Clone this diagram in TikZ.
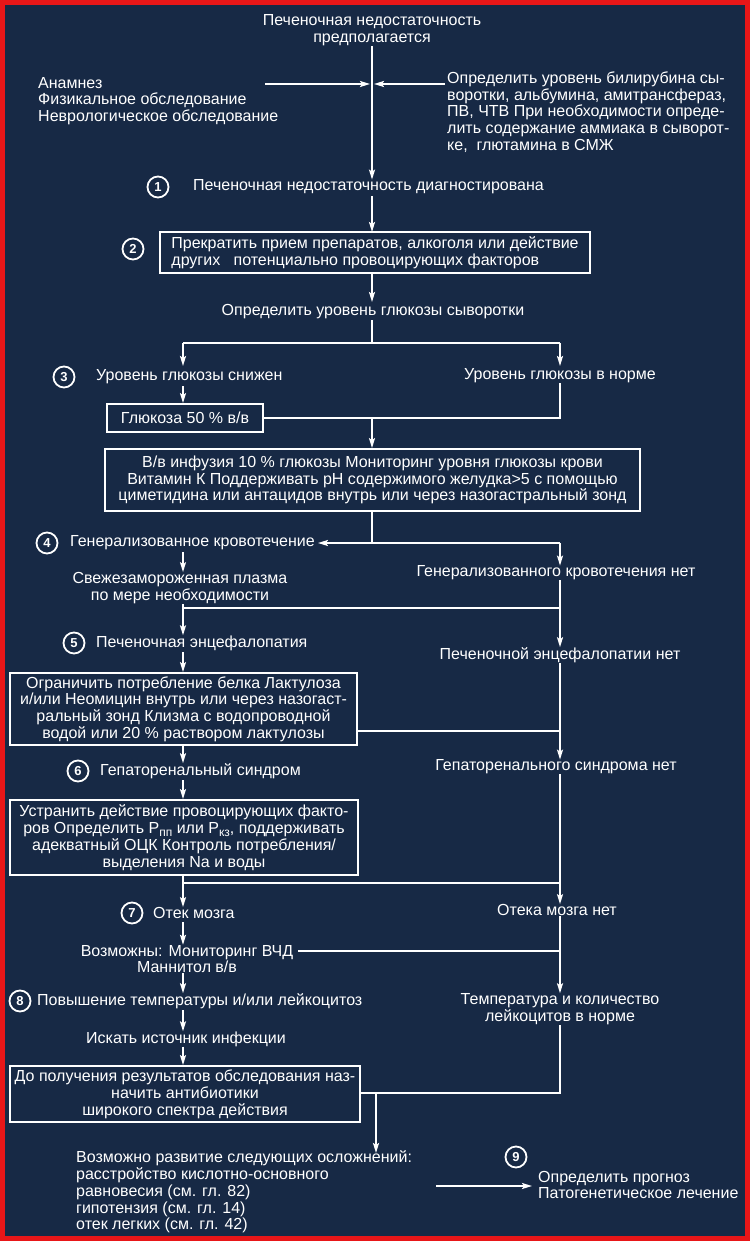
\documentclass[tikz,border=0pt]{standalone}
\usepackage{fontspec}
\setmainfont{Liberation Sans}
\usetikzlibrary{arrows.meta,calc}
\definecolor{navy}{RGB}{23,41,69}
\definecolor{frame}{RGB}{232,22,24}
\newcommand{\mf}{\fontsize{16pt}{16.8pt}\selectfont}
\newcommand{\subs}[1]{\raisebox{-0.35ex}{\fontsize{12pt}{12pt}\selectfont #1}}
\begin{document}
\begin{tikzpicture}[x=1pt,y=-1pt,
  txt/.style={inner sep=0pt,text=white,font=\mf},
  boxed/.style={draw=white,line width=1.8pt,inner sep=0pt,text=white,font=\mf},
  num/.style={circle,draw=white,line width=1.8pt,minimum size=21pt,inner sep=0pt,text=white,font=\fontsize{13pt}{13pt}\selectfont\bfseries},
  ln/.style={draw=white,line width=1.8pt},
  arr/.style={ln,-{Stealth[length=10pt,width=6pt,inset=2pt]}}]
\fill[frame] (0,0) rectangle (750,1241);
\fill[navy] (5,5) rectangle (745,1236);
\useasboundingbox (0,0) rectangle (750,1241);

% top
\node[txt,align=center] (t0) at (372,30) {Печеночная недостаточность\\предполагается};
\node[txt,align=left,anchor=west] (anam) at (38,101) {Анамнез\\Физикальное обследование\\Неврологическое обследование};
\node[txt,align=left,anchor=west] (rt) at (447,112) {Определить уровень билирубина сы-\\воротки, альбумина, амитрансфераз,\\ПВ, ЧТВ При необходимости опреде-\\лить содержание аммиака в сыворот-\\ке,\ \ глютамина в СМЖ};
\coordinate (hl) at (265,84);
\coordinate (hr) at (445,84);
\coordinate (j0) at (372,84);

\node[num] (c1) at (158,187) {1};
\node[txt,anchor=west] (d1) at (193,187) {Печеночная недостаточность диагностирована};

\node[num] (c2) at (133,249) {2};
\node[boxed,minimum width=430pt,minimum height=41pt,align=left] (b2) at (375,252.5) {Прекратить прием препаратов, алкоголя или действие\\других\ \ \ потенциально провоцирующих факторов};

\node[txt] (g0) at (373,312) {Определить уровень глюкозы сыворотки};
\coordinate (j1) at (372,343);
\coordinate (j1l) at (183,343);
\coordinate (j1r) at (560,343);

\node[num] (c3) at (64,377) {3};
\node[txt,anchor=west] (g1) at (96,377) {Уровень глюкозы снижен};
\node[txt] (g2) at (560,376) {Уровень глюкозы в норме};
\node[boxed,minimum width=156pt,minimum height=28pt] (gb) at (185,418) {Глюкоза 50 \% в/в};
\coordinate (j2) at (372,418);
\coordinate (j2r) at (560,418);

\node[boxed,minimum width=535pt,minimum height=62pt,align=center] (bb) at (372.5,480) {В/в инфузия 10 \% глюкозы Мониторинг уровня глюкозы крови\\Витамин К Поддерживать pH содержимого желудка>5 с помощью\\циметидина или антацидов внутрь или через назогастральный зонд};

\coordinate (j3) at (372,543);
\coordinate (j3r) at (560,543);
\node[num] (c4) at (47,543) {4};
\node[txt,anchor=west] (d4) at (70,543) {Генерализованное кровотечение};
\node[txt] (n4) at (556,573) {Генерализованного кровотечения нет};
\node[txt,align=center] (pl) at (180,588) {Свежезамороженная плазма\\по мере необходимости};
\coordinate (j4r) at (560,608);
\coordinate (j4l) at (183,608);

\node[num] (c5) at (74,643) {5};
\node[txt,anchor=west] (d5) at (96,643) {Печеночная энцефалопатия};
\node[txt] (n5) at (560,655) {Печеночной энцефалопатии нет};
\node[boxed,minimum width=347pt,minimum height=72pt,align=center] (b5) at (183.5,709) {Ограничить потребление белка Лактулоза\\и/или Неомицин внутрь или через назогаст-\\ральный зонд Клизма с водопроводной\\водой или 20 \% раствором лактулозы};
\coordinate (j5) at (560,731);

\node[num] (c6) at (78,771) {6};
\node[txt,anchor=west] (d6) at (100,771) {Гепаторенальный синдром};
\node[txt] (n6) at (556,767) {Гепаторенального синдрома нет};
\node[boxed,minimum width=348pt,minimum height=75pt,align=center] (b6) at (184,837.5) {Устранить действие провоцирующих факто-\\ров Определить Р\subs{пп} или Р\subs{кз}, поддерживать\\адекватный ОЦК Контроль потребления/\\выделения Na и воды};
\coordinate (j6r) at (560,883);
\coordinate (j6l) at (183,883);

\node[num] (c7) at (132,913) {7};
\node[txt,anchor=west] (d7) at (153,913) {Отек мозга};
\node[txt] (n7) at (557,910) {Отека мозга нет};
\node[txt,align=center] (ps) at (187,959) {Возможны: Мониторинг ВЧД\\Маннитол в/в};
\coordinate (j7r) at (560,951);
\coordinate (j7l) at (298,951);

\node[num] (c8) at (20,1001) {8};
\node[txt,anchor=west] (d8) at (37,1001) {Повышение температуры и/или лейкоцитоз};
\node[txt,align=center] (n8) at (560,1009) {Температура и количество\\лейкоцитов в норме};
\node[txt] (se) at (186,1039) {Искать источник инфекции};
\node[boxed,minimum width=350pt,minimum height=56pt,align=center] (b8) at (185,1094) {До получения результатов обследования наз-\\начить антибиотики\\широкого спектра действия};
\coordinate (j8r) at (560,1093);
\coordinate (j8) at (376,1093);

\node[txt,align=left,anchor=west] (cm) at (76,1192) {Возможно развитие следующих осложнений:\\расстройство кислотно-основного\\равновесия (см. гл. 82)\\гипотензия (см. гл. 14)\\отек легких (см. гл. 42)};
\node[num] (c9) at (516,1157) {9};
\node[txt,align=left,anchor=west] (pr) at (538,1185) {Определить прогноз\\Патогенетическое лечение};
\coordinate (a9) at (436,1186);

% connectors
\draw[ln] (t0.south) -- (j0);
\draw[arr] (j0) -- (t0.south |- d1.north);
\draw[arr,shorten >=2pt] (hl) -- (j0);
\draw[arr,shorten >=2pt] (hr) -- (j0);
\draw[arr] (372,196) -- (372,232);
\draw[arr] (372,273) -- (372,302);
\draw[ln] (372,320) -- (j1);
\draw[ln] (j1l) -- (j1r);
\draw[arr] (j1l) -- (183,366);
\draw[arr] (j1r) -- (560,366);
\draw[arr] (183,386) -- (gb.north -| 183,0);
\draw[ln] (g2.south) -- (j2r) -- (gb.east);
\draw[arr] (j2) -- (bb.north -| j2);
\draw[ln] (bb.south -| j3) -- (j3);
\draw[arr] (j3r) -- ($(d4.east)+(3,0)$);
\draw[arr] (j3r) -- (n4.north -| j3r);
\draw[arr] (183,552) -- (pl.north -| 183,0);
\draw[ln] (n4.south -| j4r) -- (j4r) -- (j4l);
\draw[arr] (pl.south -| 183,0) -- (d5.north -| 183,0);
\draw[arr] (j4r) -- (n5.north -| j4r);
\draw[arr] (183,652) -- (b5.north -| 183,0);
\draw[ln] (b5.east |- j5) -- (j5);
\draw[arr] (n5.south -| j5) -- (n6.north -| j5);
\draw[arr] (b5.south -| 183,0) -- (d6.north -| 183,0);
\draw[arr] (183,780) -- (b6.north -| 183,0);
\draw[arr] (n6.south -| j6r) -- (n7.north -| j6r);
\draw[ln] (j6r) -- (j6l);
\draw[arr] (b6.south -| 183,0) -- (d7.north -| 183,0);
\draw[arr] (183,922) -- (ps.north -| 183,0);
\draw[ln] (j7l) -- (j7r);
\draw[arr] (n7.south -| j7r) -- (n8.north -| j7r);
\draw[arr] (ps.south -| 183,0) -- (d8.north -| 183,0);
\draw[arr] (183,1010) -- (se.north -| 183,0);
\draw[arr] (se.south -| 183,0) -- (b8.north -| 183,0);
\draw[ln] (n8.south) -- (j8r) -- (b8.east |- j8r);
\draw[arr] (j8) -- (376,1153);
\draw[arr] (a9) -- ($(pr.west)+(-6,1)$);
\end{tikzpicture}
\end{document}
